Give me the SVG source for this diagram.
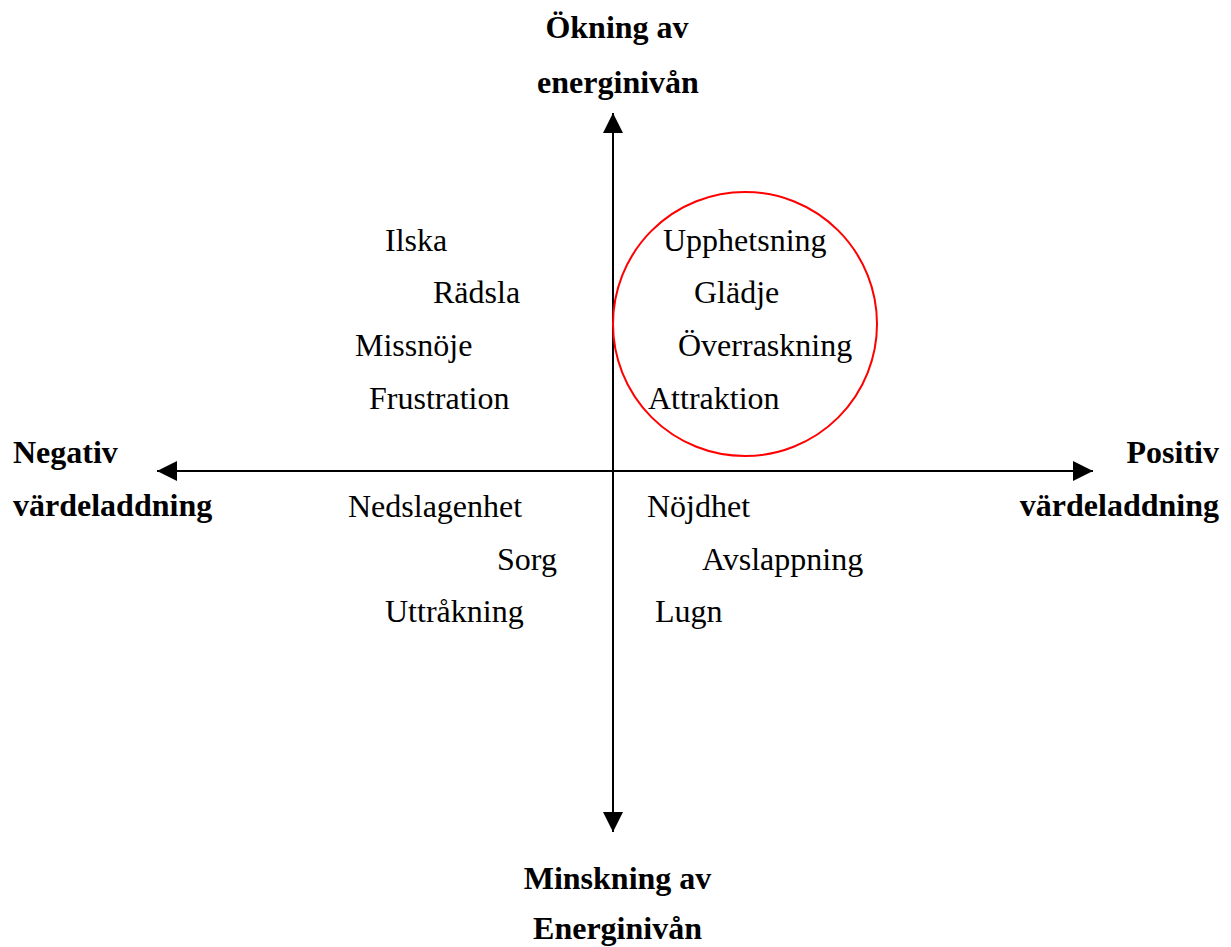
<svg xmlns="http://www.w3.org/2000/svg" width="1231" height="947" viewBox="0 0 1231 947">
  <style>
    .t { font-family: "Liberation Serif", "Times New Roman", serif; font-size: 32px; fill: #000; }
    .b { font-family: "Liberation Serif", "Times New Roman", serif; font-size: 32px; font-weight: bold; fill: #000; }
    .axis { stroke: #000; stroke-width: 2; fill: none; }
  </style>
  <defs>
    <marker id="arrow" markerUnits="userSpaceOnUse" markerWidth="20" markerHeight="20" refX="20" refY="10" orient="auto-start-reverse">
      <path d="M0,0 L20,10 L0,20 z" fill="#000"/>
    </marker>
  </defs>
  <rect width="1231" height="947" fill="#fff"/>

  <g id="connectors">
    <line class="axis" x1="613" y1="113" x2="613" y2="832" marker-start="url(#arrow)" marker-end="url(#arrow)"/>
    <line class="axis" x1="157" y1="471" x2="1093" y2="471" marker-start="url(#arrow)" marker-end="url(#arrow)"/>
  </g>

  <g id="circle-highlight">
    <circle cx="745" cy="324" r="132" fill="none" stroke="#ff0000" stroke-width="2"/>
  </g>

  <g id="label-top">
    <text class="b" x="617" y="38" text-anchor="middle">Ökning av</text>
    <text class="b" x="618" y="93" text-anchor="middle">energinivån</text>
  </g>
  <g id="label-bottom">
    <text class="b" x="617.5" y="889" text-anchor="middle">Minskning av</text>
    <text class="b" x="617.5" y="939" text-anchor="middle">Energinivån</text>
  </g>
  <g id="label-left">
    <text class="b" x="13" y="463">Negativ</text>
    <text class="b" x="13" y="516">värdeladdning</text>
  </g>
  <g id="label-right">
    <text class="b" x="1219" y="463" text-anchor="end">Positiv</text>
    <text class="b" x="1219" y="516" text-anchor="end">värdeladdning</text>
  </g>

  <g id="ilska"><text class="t" x="385" y="251">Ilska</text></g>
  <g id="radsla"><text class="t" x="433" y="303">Rädsla</text></g>
  <g id="missnoje"><text class="t" x="355" y="356">Missnöje</text></g>
  <g id="frustration"><text class="t" x="369" y="409">Frustration</text></g>

  <g id="upphetsning"><text class="t" x="663" y="251">Upphetsning</text></g>
  <g id="gladje"><text class="t" x="694" y="303">Glädje</text></g>
  <g id="overraskning"><text class="t" x="678" y="356">Överraskning</text></g>
  <g id="attraktion"><text class="t" x="648" y="409">Attraktion</text></g>

  <g id="nedslagenhet"><text class="t" x="348" y="517">Nedslagenhet</text></g>
  <g id="sorg"><text class="t" x="497" y="570">Sorg</text></g>
  <g id="uttrakning"><text class="t" x="385" y="622">Uttråkning</text></g>

  <g id="nojdhet"><text class="t" x="647" y="517">Nöjdhet</text></g>
  <g id="avslappning"><text class="t" x="702" y="570">Avslappning</text></g>
  <g id="lugn"><text class="t" x="655" y="622">Lugn</text></g>
</svg>
